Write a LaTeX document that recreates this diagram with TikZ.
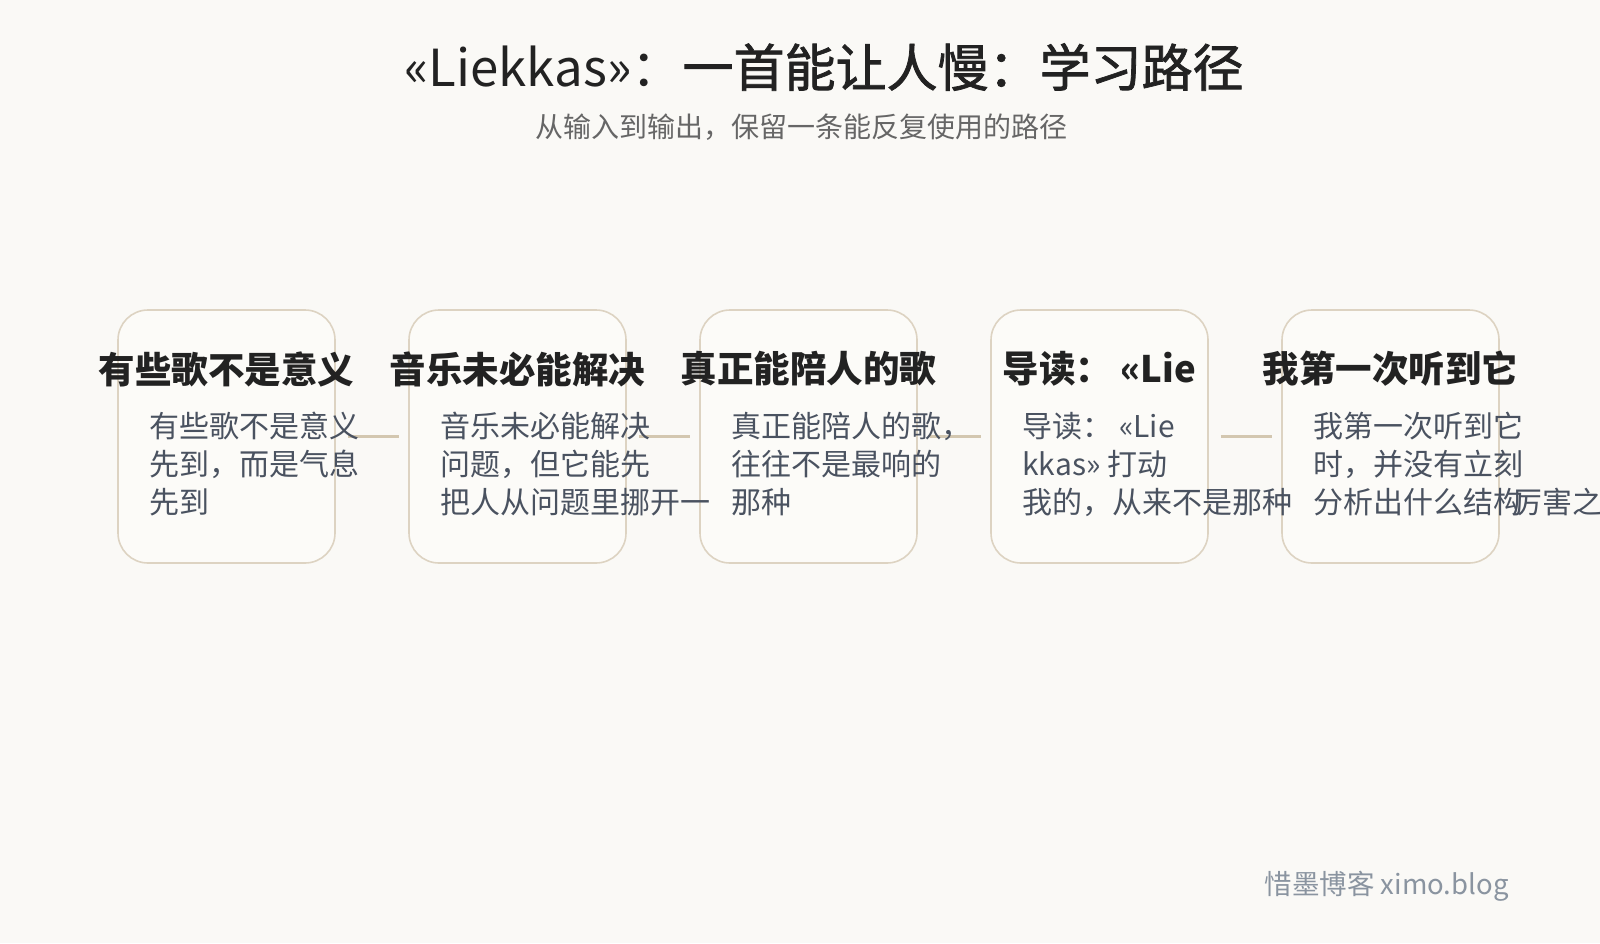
\documentclass[tikz,border=0pt]{standalone}
\usepackage{fontspec}
\setmainfont{Noto Sans CJK SC}
\newfontfamily\cjkbold[FakeBold=1.5]{Noto Sans CJK SC}
\definecolor{bgpaper}{HTML}{FAF9F6}
\definecolor{boxline}{HTML}{DDD3C2}
\definecolor{boxfill}{HTML}{FCFBF8}
\definecolor{linkline}{HTML}{D3C7B0}
\definecolor{inkdark}{HTML}{222222}
\definecolor{inkbody}{HTML}{4A5260}
\definecolor{inkgray}{HTML}{666666}
\definecolor{inkfoot}{HTML}{8A94A0}
\tikzset{
  stepcard/.style={draw=boxline, line width=1.6pt, fill=boxfill, rounded corners=30pt,
    minimum width=217pt, minimum height=253pt, inner sep=0pt},
  steptitle/.style={text=inkdark, font=\fontsize{36.5}{40}\selectfont\bfseries, inner sep=0pt},
  stepbody/.style={text=inkbody, font=\fontsize{30}{37.8}\selectfont, inner sep=0pt,
    anchor=north west, align=left},
  linkstroke/.style={draw=linkline, line width=2.6pt}
}
\begin{document}
\begin{tikzpicture}[x=1pt,y=-1pt]
    % Hintergrund
    \fill[bgpaper] (0,0) rectangle (1600,943);
    \useasboundingbox (0,0) rectangle (1600,943);

    \node[text=inkdark, font=\fontsize{51}{56}\selectfont] (title) at (824,67)
      {«Liekkas»：\cjkbold 一首能让人慢：学习路径};
    \node[text=inkgray, font=\fontsize{28}{32}\selectfont] (subtitle) at (801,127)
      {从输入到输出，保留一条能反复使用的路径};

    % Karten
    \foreach \i in {0,...,4}
      \node[stepcard] (card\i) at (226.5+291*\i,436.5) {};

    \foreach \i/\j in {0/1,1/2,2/3,3/4}
      \draw[linkstroke] ([xshift=12pt]card\i.east) -- ([xshift=-9pt]card\j.west);

    % Titel
    \node[steptitle] (head0) at (card0.center |- 0,369) {有些歌不是意义};
    \node[steptitle] (head1) at (card1.center |- 0,369) {音乐未必能解决};
    \node[steptitle] (head2) at (card2.center |- 0,369) {真正能陪人的歌};
    \node[steptitle] (head3) at (card3.center |- 0,369) {导读：\ «Lie};
    \node[steptitle] (head4) at (card4.center |- 0,369) {我第一次听到它};

    % Texte
    \node[stepbody] (text0) at ([xshift=32pt]card0.west |- 0,412) {有些歌不是意义\\先到，而是气息\\先到};
    \node[stepbody] (text1) at ([xshift=32pt]card1.west |- 0,412) {音乐未必能解决\\问题，但它能先\\把人从问题里挪开一};
    \node[stepbody] (text2) at ([xshift=32pt]card2.west |- 0,412) {真正能陪人的歌，\\往往不是最响的\\那种};
    \node[stepbody] (text3) at ([xshift=32pt]card3.west |- 0,412) {导读：\ «Lie\\kkas» 打动\\我的，从来不是那种};
    \node[stepbody] (text4) at ([xshift=32pt]card4.west |- 0,412) {我第一次听到它\\时，并没有立刻\\分析出什么结构};
    \node[stepbody] (text4b) at (1512,487.6) {厉害之处};

    \node[text=inkfoot, font=\fontsize{27.5}{32}\selectfont, anchor=east] (footer) at (1512,886)
      {惜墨博客 ximo.blog};
\end{tikzpicture}
\end{document}
